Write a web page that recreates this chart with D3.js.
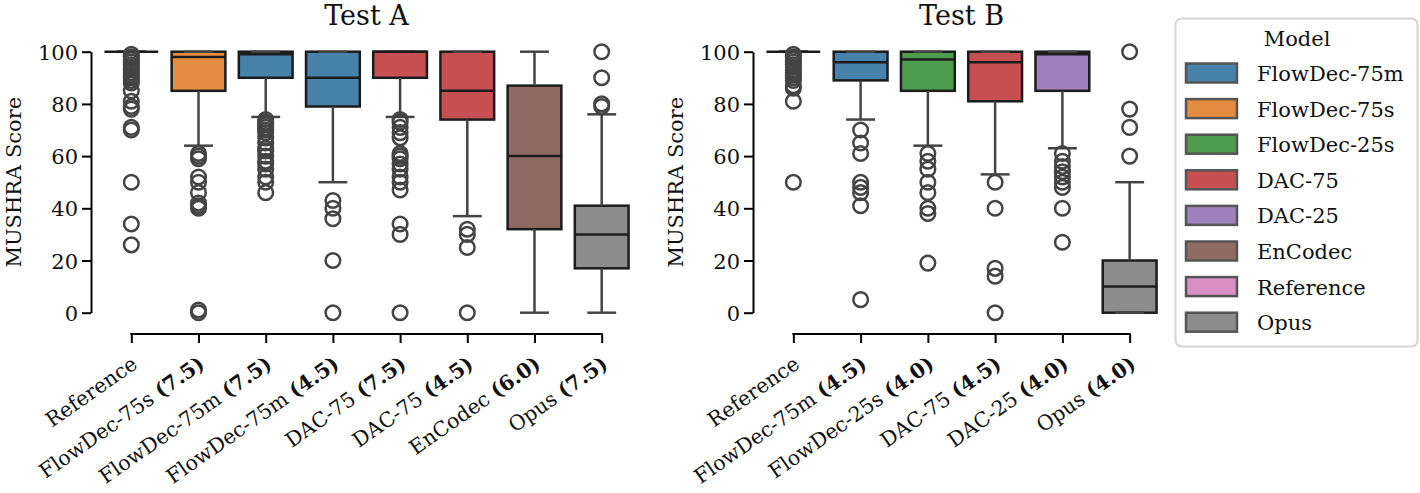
<!DOCTYPE html>
<html>
<head>
<meta charset="utf-8">
<script src="https://cdn.jsdelivr.net/npm/d3@7"></script>
<style>
  body { margin: 0; background: #fff; }
  svg text { fill: #111; }
</style>
</head>
<body>
<script>
// legend / colours
var models = ["FlowDec-75m", "FlowDec-75s", "FlowDec-25s", "DAC-75", "DAC-25", "EnCodec", "Reference", "Opus"]
var modelColors = ["#3274a1", "#e1812c", "#3a923a", "#c03d3e", "#9372b2", "#845b53", "#d684bd", "#7f7f7f"]

// Test A
var a_models = ["Reference", "FlowDec-75s", "FlowDec-75m", "FlowDec-75m", "DAC-75", "DAC-75", "EnCodec", "Opus"]
var a_kbps   = ["", "7.5", "7.5", "4.5", "7.5", "4.5", "6.0", "7.5"]
var a_lo     = [100, 64, 75, 50, 75, 37, 0, 0]
var a_q1     = [100, 85, 90, 79, 90, 74, 32, 17]
var a_med    = [100, 98, 99, 90, 100, 85, 60, 30]
var a_q3     = [100, 100, 100, 100, 100, 100, 87, 41]
var a_hi     = [100, 100, 100, 100, 100, 100, 100, 76]
var a_out = [
  [99, 98, 97, 96, 95, 94, 93, 92, 91, 90, 89, 88, 85, 81, 79, 78, 71, 70, 50, 34, 26],
  [61, 60, 59, 52, 50, 46, 42, 41, 40, 1, 0],
  [74, 73, 72, 71, 70, 69, 67, 65, 63, 62, 60, 58, 57, 55, 52, 50, 46],
  [43, 40, 36, 20, 0],
  [74, 73, 71, 69, 67, 61, 60, 59, 57, 55, 52, 50, 47, 34, 30, 0],
  [32, 30, 25, 0],
  [],
  [100, 90, 80, 79]
]

// Test B
var b_models = ["Reference", "FlowDec-75m", "FlowDec-25s", "DAC-75", "DAC-25", "Opus"]
var b_kbps   = ["", "4.5", "4.0", "4.5", "4.0", "4.0"]
var b_lo     = [100, 74, 64, 53, 63, 0]
var b_q1     = [100, 89, 85, 81, 85, 0]
var b_med    = [100, 96, 97, 96, 99, 10]
var b_q3     = [100, 100, 100, 100, 100, 20]
var b_hi     = [100, 100, 100, 100, 100, 50]
var b_out = [
  [99, 98, 97, 96, 95, 94, 93, 92, 91, 90, 89, 87, 86, 81, 50],
  [70, 65, 61, 50, 48, 46, 41, 5],
  [61, 58, 55, 50, 46, 40, 38, 19],
  [50, 40, 17, 14, 0],
  [61, 58, 56, 54, 52, 50, 48, 40, 27],
  [100, 78, 71, 60]
]

var yTicks = [0, 20, 40, 60, 80, 100]

var FONT = "DejaVu Serif"
var FS = 21          // base font size (DejaVu Serif runs wide)
var svg_w = 1420, svg_h = 493
var svg = d3.select("body").append("svg")
    .attr("width", svg_w).attr("height", svg_h)
    .attr("font-family", FONT)

var cscale = d3.scaleOrdinal().domain(models).range(modelColors)
var yscale = d3.scaleLinear().domain([0, 100]).range([312.7, 51.7])

var boxStroke = "#1c1c1c", lineStroke = "#444"

function panel(title, x0, x1, mods, kbps, lo, q1, med, q3, hi, outs) {
    var data = mods.map((m, i) => ({
        model: m, kbps: kbps[i],
        name: kbps[i] ? m + " (" + kbps[i] + ")" : m,
        lo: lo[i], q1: q1[i], med: med[i], q3: q3[i], hi: hi[i], out: outs[i]
    }))
    var xscale = d3.scalePoint().domain(data.map(d => d.name)).range([x0, x1]).padding(0.6)
    var bw = xscale.step() * 0.8
    var cw = xscale.step() * 0.43
    var g = svg.append("g")

    // title
    g.append("text").attr("x", (x0 + x1) / 2).attr("y", 25)
        .attr("text-anchor", "middle").attr("font-family", FONT).attr("font-size", FS + 6).text(title)

    // y axis
    var yax = g.append("g").attr("transform", "translate(" + x0 + ",0)")
        .call(d3.axisLeft(yscale).tickValues(yTicks).tickSize(9).tickSizeOuter(0).tickPadding(4))
    yax.attr("font-family", FONT).attr("font-size", FS)
    yax.selectAll("path,line").attr("stroke", "#000").attr("stroke-width", 2)
    yax.selectAll("text").attr("dy", "0.36em")
    g.append("text")
        .attr("transform", "translate(" + (x0 - 70) + "," + yscale(50) + ") rotate(-90)")
        .attr("text-anchor", "middle").attr("font-family", FONT).attr("font-size", FS).text("MUSHRA Score")

    // x axis, trimmed to first/last tick
    var axy = 334
    var xax = g.append("g").attr("transform", "translate(0," + axy + ")")
        .call(d3.axisBottom(xscale).tickSize(9).tickSizeOuter(0))
    xax.attr("font-family", FONT).attr("font-size", FS - 0.5)
    xax.select("path.domain").remove()
    var first = xscale(data[0].name), last = xscale(data[data.length - 1].name)
    xax.append("line").attr("x1", first - 1).attr("x2", last + 1)
        .attr("stroke", "#000").attr("stroke-width", 2)
    xax.selectAll(".tick line").attr("stroke", "#000").attr("stroke-width", 2)
    xax.selectAll(".tick text").each(function(name, i) {
        var d = data[i]
        var t = d3.select(this).text(null)
            .attr("x", 0).attr("y", 0).attr("dy", 0)
            .attr("text-anchor", "end")
            .attr("transform", "translate(7,33) rotate(-35)")
        t.append("tspan").text(d.model + (d.kbps ? " " : ""))
        if (d.kbps) t.append("tspan").attr("font-weight", "bold").text("(" + d.kbps + ")")
    })

    var boxes = g.selectAll("g.box").data(data).enter().append("g").attr("class", "box")

    boxes.append("rect")
        .attr("x", d => xscale(d.name) - bw / 2)
        .attr("y", d => yscale(d.q3))
        .attr("width", bw)
        .attr("height", d => yscale(d.q1) - yscale(d.q3))
        .attr("fill", d => cscale(d.model))
        .attr("fill-opacity", 0.9)
        .attr("stroke", boxStroke)
        .attr("stroke-width", 2.5)

    // whiskers
    boxes.append("line")
        .attr("x1", d => xscale(d.name)).attr("x2", d => xscale(d.name))
        .attr("y1", d => yscale(d.q1)).attr("y2", d => yscale(d.lo))
        .attr("stroke", lineStroke).attr("stroke-width", 2.5)
    boxes.append("line")
        .attr("x1", d => xscale(d.name)).attr("x2", d => xscale(d.name))
        .attr("y1", d => yscale(d.q3)).attr("y2", d => yscale(d.hi))
        .attr("stroke", lineStroke).attr("stroke-width", 2.5)
    // caps
    boxes.selectAll("line.cap").data(d => [[d, d.lo], [d, d.hi]]).enter().append("line")
        .attr("class", "cap")
        .attr("x1", p => xscale(p[0].name) - cw / 2).attr("x2", p => xscale(p[0].name) + cw / 2)
        .attr("y1", p => yscale(p[1])).attr("y2", p => yscale(p[1]))
        .attr("stroke", lineStroke).attr("stroke-width", 2.5)
    // median
    boxes.append("line")
        .attr("x1", d => xscale(d.name) - bw / 2).attr("x2", d => xscale(d.name) + bw / 2)
        .attr("y1", d => yscale(d.med)).attr("y2", d => yscale(d.med))
        .attr("stroke", boxStroke).attr("stroke-width", 2.5)

    // outliers
    boxes.selectAll("circle").data(d => d.out.map(v => [d, v])).enter().append("circle")
        .attr("cx", p => xscale(p[0].name))
        .attr("cy", p => yscale(p[1]))
        .attr("r", 7.3)
        .attr("fill", "none")
        .attr("stroke", lineStroke)
        .attr("stroke-width", 2.5)
}

panel("Test A", 91, 642, a_models, a_kbps, a_lo, a_q1, a_med, a_q3, a_hi, a_out)
panel("Test B", 753, 1170, b_models, b_kbps, b_lo, b_q1, b_med, b_q3, b_hi, b_out)

// Legend
var leg = svg.append("g").attr("font-family", FONT).attr("font-size", FS)
leg.append("rect").attr("x", 1175.5).attr("y", 18.5).attr("width", 242).attr("height", 328)
    .attr("rx", 6).attr("fill", "#fff").attr("stroke", "#d4d4d4").attr("stroke-width", 2)
leg.append("text").attr("x", 1297).attr("y", 46).attr("text-anchor", "middle").text("Model")
var items = leg.selectAll("g.item").data(models).enter().append("g")
    .attr("transform", (d, i) => "translate(0," + (73 + i * 35.6) + ")")
items.append("rect").attr("x", 1186).attr("y", -9.5).attr("width", 51).attr("height", 19)
    .attr("fill", d => cscale(d)).attr("fill-opacity", 0.9)
    .attr("stroke", "#555").attr("stroke-width", 2.5)
items.append("text").attr("x", 1257).attr("y", 8).text(d => d)
</script>
</body>
</html>
